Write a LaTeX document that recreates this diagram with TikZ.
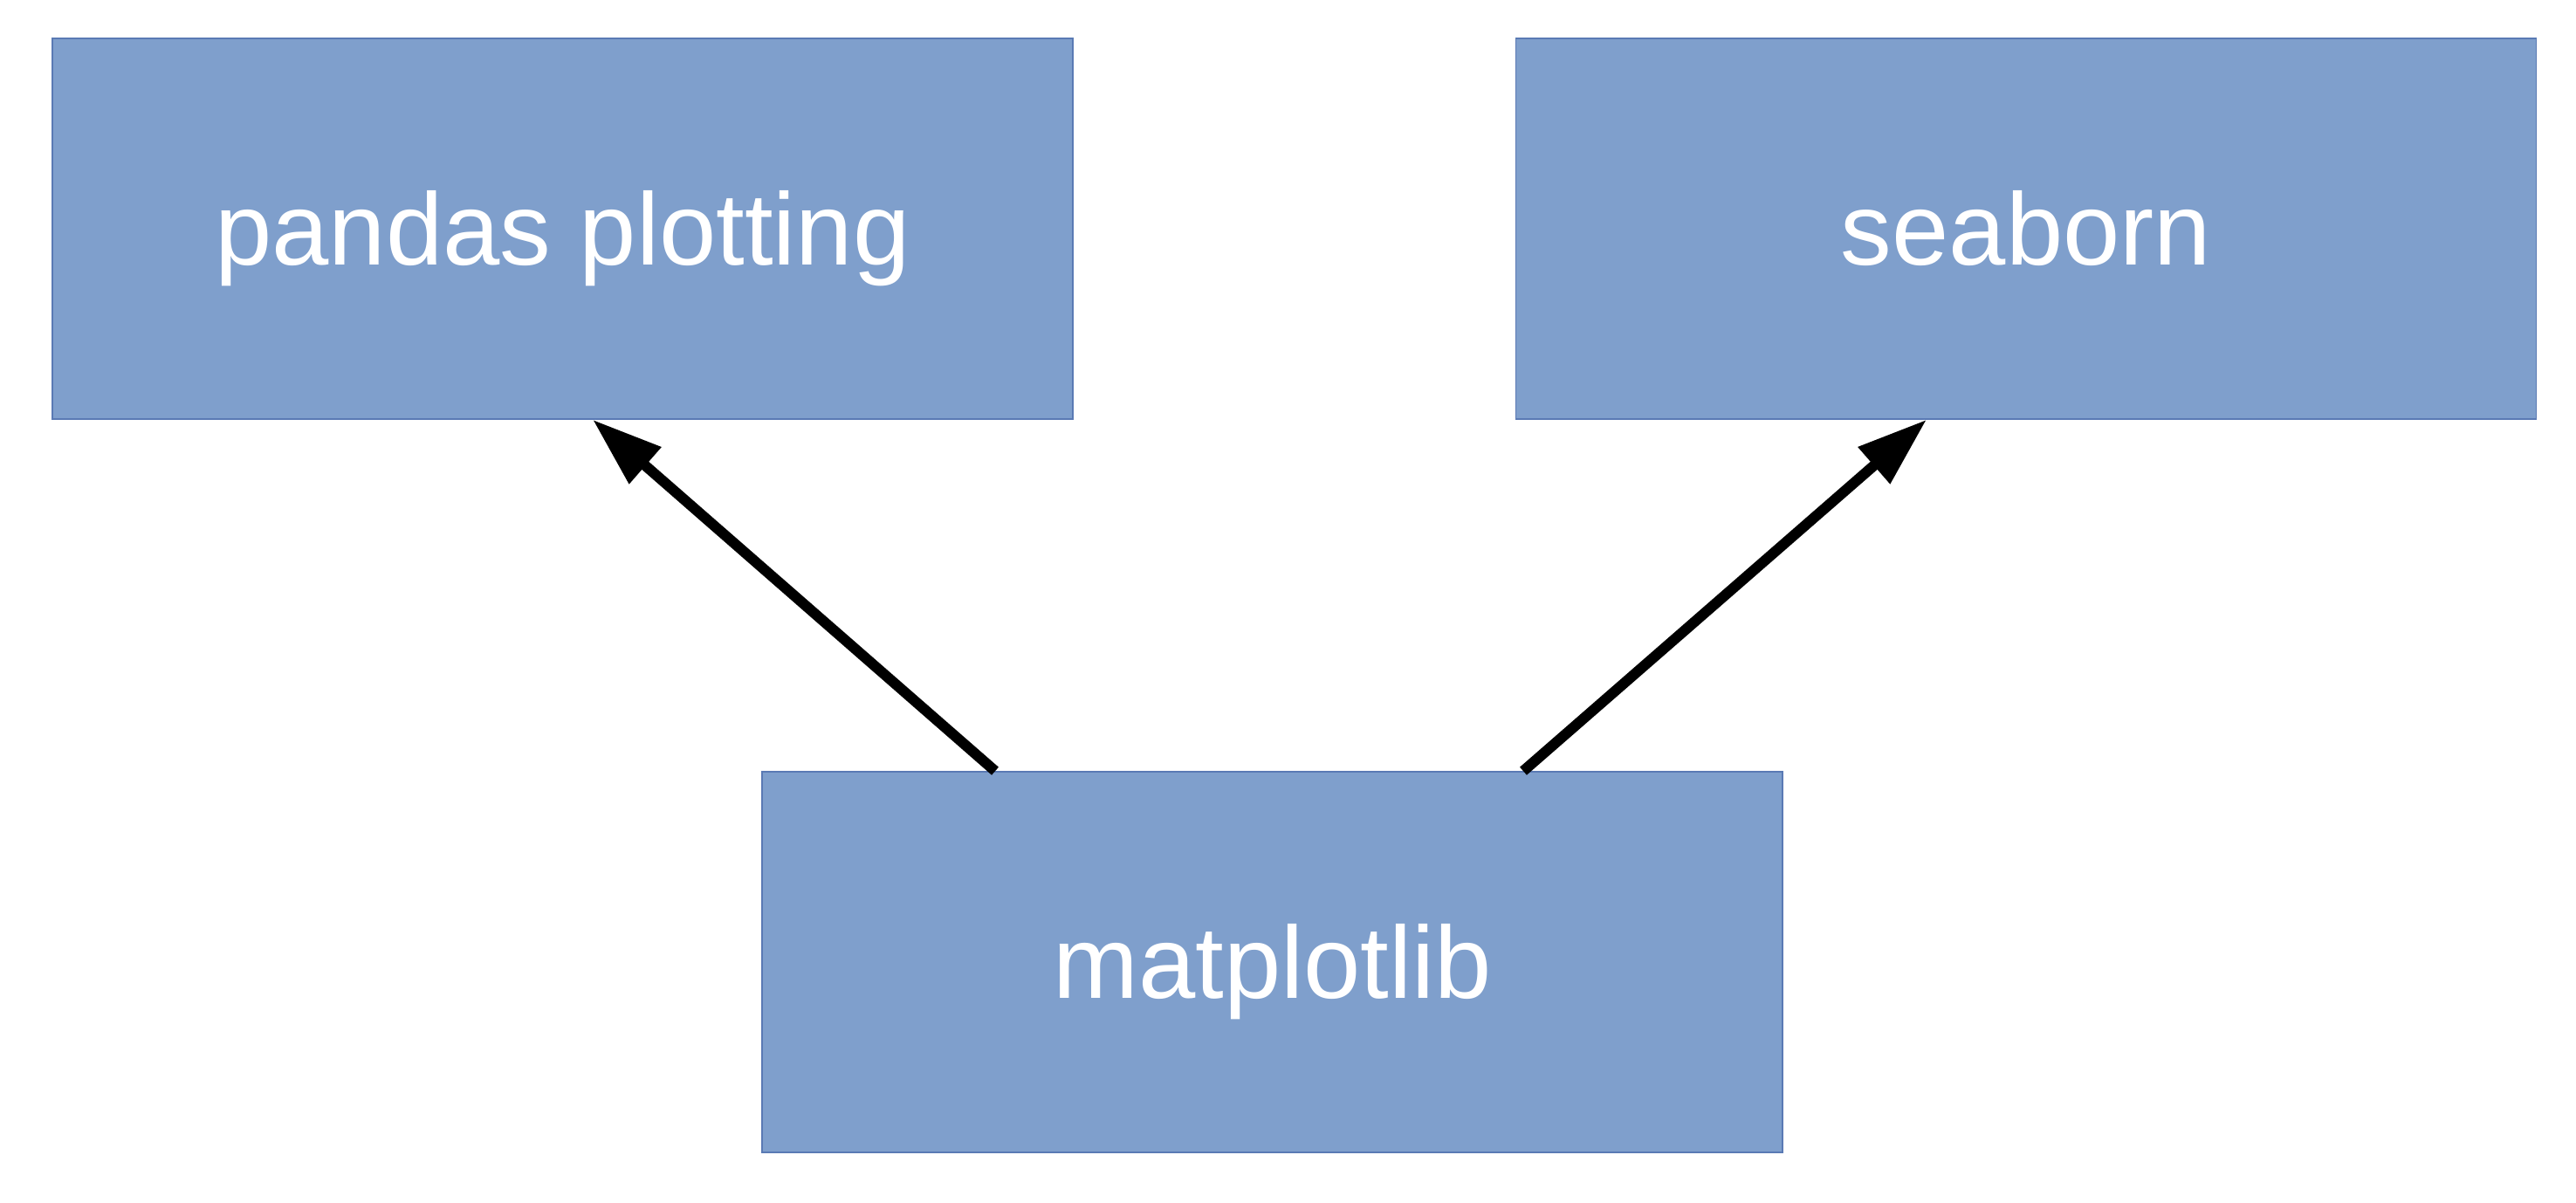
\documentclass[tikz,border=0pt]{standalone}
\usepackage{fontspec}
\setmainfont{Liberation Sans}
\usetikzlibrary{arrows.meta}
\definecolor{boxfill}{HTML}{7F9FCC}
\definecolor{boxline}{HTML}{5A7AB4}
\begin{document}
\begin{tikzpicture}[
  box/.style={draw=boxline, line width=0.015cm, fill=boxfill, inner sep=0pt,
    minimum width=11.69cm, minimum height=4.36cm, text=white,
    font=\fontsize{33.4pt}{36pt}\selectfont, text height=0.9cm, text depth=0.07cm},
  link/.style={line width=0.12cm, draw=black, -{Triangle[length=0.8cm,width=0.53cm]}}
]
\useasboundingbox (0,0) rectangle (29.51,13.78);
\node[box] (p) at (6.445,11.16) {pandas plotting};
\node[box] (s) at (23.21,11.16) {seaborn};
\node[box] (m) at (14.575,2.76) {matplotlib};
\draw[link] ([xshift=-3.175cm]m.north) -- ([xshift=0.345cm]p.south);
\draw[link] ([xshift=2.875cm]m.north) -- ([xshift=-1.14cm]s.south);
\end{tikzpicture}
\end{document}
